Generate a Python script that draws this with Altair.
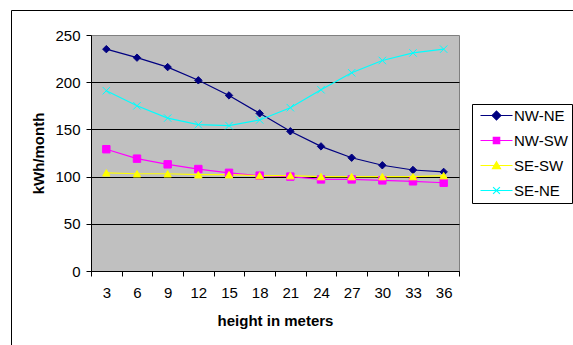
import altair as alt
import pandas as pd

heights = [3, 6, 9, 12, 15, 18, 21, 24, 27, 30, 33, 36]
series_names = ["NW-NE", "NW-SW", "SE-SW", "SE-NE"]
nw_ne = [235, 226, 216, 202, 186, 167, 148, 132, 120, 112, 107, 105]
nw_sw = [129, 119, 113, 108, 104, 101, 100, 97, 97, 96, 95, 93.5]
se_sw = [104, 103, 103, 102, 102, 101, 101, 100, 100, 100, 100, 101]
se_ne = [191, 175, 162, 155, 154, 160, 173, 192, 210, 223, 231, 235]
y_ticks = [0, 50, 100, 150, 200, 250]

series_colors = ["#000080", "#FF00FF", "#FFFF00", "#00FFFF"]
marker_shapes = ["diamond", "square", "triangle-up", "M-1,-1L1,1M-1,1L1,-1"]
legend_paths = [
    "M-4,0L4,0M0,-1.1L1.1,0L0,1.1L-1.1,0Z",
    "M-4,0L4,0M-0.8,-0.8L0.8,-0.8L0.8,0.8L-0.8,0.8Z",
    "M-4,0L4,0M0,-0.95L1,0.8L-1,0.8Z",
    "M-4,0L4,0M-0.85,-0.85L0.85,0.85M-0.85,0.85L0.85,-0.85",
]

rows = []
for name, vals in zip(series_names, [nw_ne, nw_sw, se_sw, se_ne]):
    for h, v in zip(heights, vals):
        rows.append({"height": h, "kwh": v, "series": name})
df = pd.DataFrame(rows)

step = heights[1] - heights[0]
x_domain = [heights[0] - step / 2, heights[-1] + step / 2]
x_ticks = sorted(set([h - step / 2 for h in heights] + [heights[-1] + step / 2] + heights))

x_enc = alt.X(
    "height:Q",
    scale=alt.Scale(domain=x_domain, nice=False, zero=False),
    axis=alt.Axis(
        values=x_ticks,
        tickCount=len(x_ticks) + 5,
        title="height in meters",
        grid=False,
        labelExpr=f"datum.value % {step} == 0 ? datum.label : ''",
        tickOpacity={"condition": {"test": f"datum.value % {step} == 0", "value": 0}, "value": 1},
        labelOverlap=False,
        labelFlush=False,
        labelPadding=9,
        titleY=54,
        titleBaseline="alphabetic",
    ),
)
y_enc = alt.Y(
    "kwh:Q",
    scale=alt.Scale(domain=[0, 250], nice=False),
    axis=alt.Axis(
        values=y_ticks,
        tickCount=len(y_ticks) + 2,
        title="kWh/month",
        grid=True,
        gridColor={"condition": {"test": "datum.value >= 250", "value": "transparent"}, "value": "black"},
        gridWidth=1,
        labelPadding=6,
        titleX=-48,
        titleY=118,
        titleAngle=-90,
        titleBaseline="alphabetic",
    ),
)

color_scale = alt.Scale(domain=series_names, range=series_colors)

frame = alt.Chart(alt.Data(values=[{"f": 1}])).mark_rect(
    fill="transparent", stroke="black", strokeWidth=1
).encode(
    x=alt.value(-79.5), x2=alt.value(560), y=alt.value(-24.5), y2=alt.value(420)
)

legend_cfg = dict(
    title=None,
    orient="none",
    legendX=381,
    legendY=69,
    strokeColor="black",
    fillColor="white",
    padding=4,
    labelFontSize=15,
    labelFont="Liberation Sans",
    labelColor="black",
    symbolSize=64,
    symbolStrokeWidth=1.2,
    symbolOpacity=1,
    rowPadding=9,
    symbolOffset=13,
    labelOffset=10,
)

lines = alt.Chart(df).mark_line(strokeWidth=1.2).encode(
    x=x_enc,
    y=y_enc,
    color=alt.Color("series:N", scale=color_scale, legend=alt.Legend(**legend_cfg)),
)

point_layers = []
for name, shp, col in zip(series_names, marker_shapes, series_colors):
    point_layers.append(
        alt.Chart(df)
        .transform_filter(alt.datum.series == name)
        .mark_point(shape=shp, filled=True, fill=col, stroke=col, size=55, strokeWidth=1, opacity=1)
        .encode(x=alt.X("height:Q"), y=alt.Y("kwh:Q"))
    )

legend_layer = alt.Chart(df).mark_point(filled=True, opacity=0, size=1).encode(
    x=alt.X("height:Q"),
    y=alt.Y("kwh:Q"),
    color=alt.Color("series:N", scale=color_scale, legend=alt.Legend(**legend_cfg)),
    stroke=alt.Stroke("series:N", scale=color_scale, legend=alt.Legend(**legend_cfg)),
    shape=alt.Shape("series:N", scale=alt.Scale(domain=series_names, range=legend_paths),
                    legend=alt.Legend(**legend_cfg)),
)

chart = (
    alt.layer(frame, lines, *point_layers, legend_layer)
    .properties(
        width=368,
        height=236,
        autosize=alt.AutoSizeParams(type="none"),
        padding={"left": 91, "top": 35, "right": 114, "bottom": 74},
        background="white",
    )
    .configure(font="Liberation Sans")
    .configure_view(fill="#C0C0C0", stroke="#808080", strokeWidth=1)
    .configure_axis(
        domainColor="black",
        domainWidth=1,
        tickColor="black",
        tickWidth=1,
        tickSize=5,
        labelColor="black",
        titleColor="black",
        labelFontSize=15,
        titleFontSize=15,
        titleFontWeight="bold",
        labelFont="Liberation Sans",
        titleFont="Liberation Sans",
    )
)

chart.save("out.html", embed_options={"renderer": "svg", "actions": False})
